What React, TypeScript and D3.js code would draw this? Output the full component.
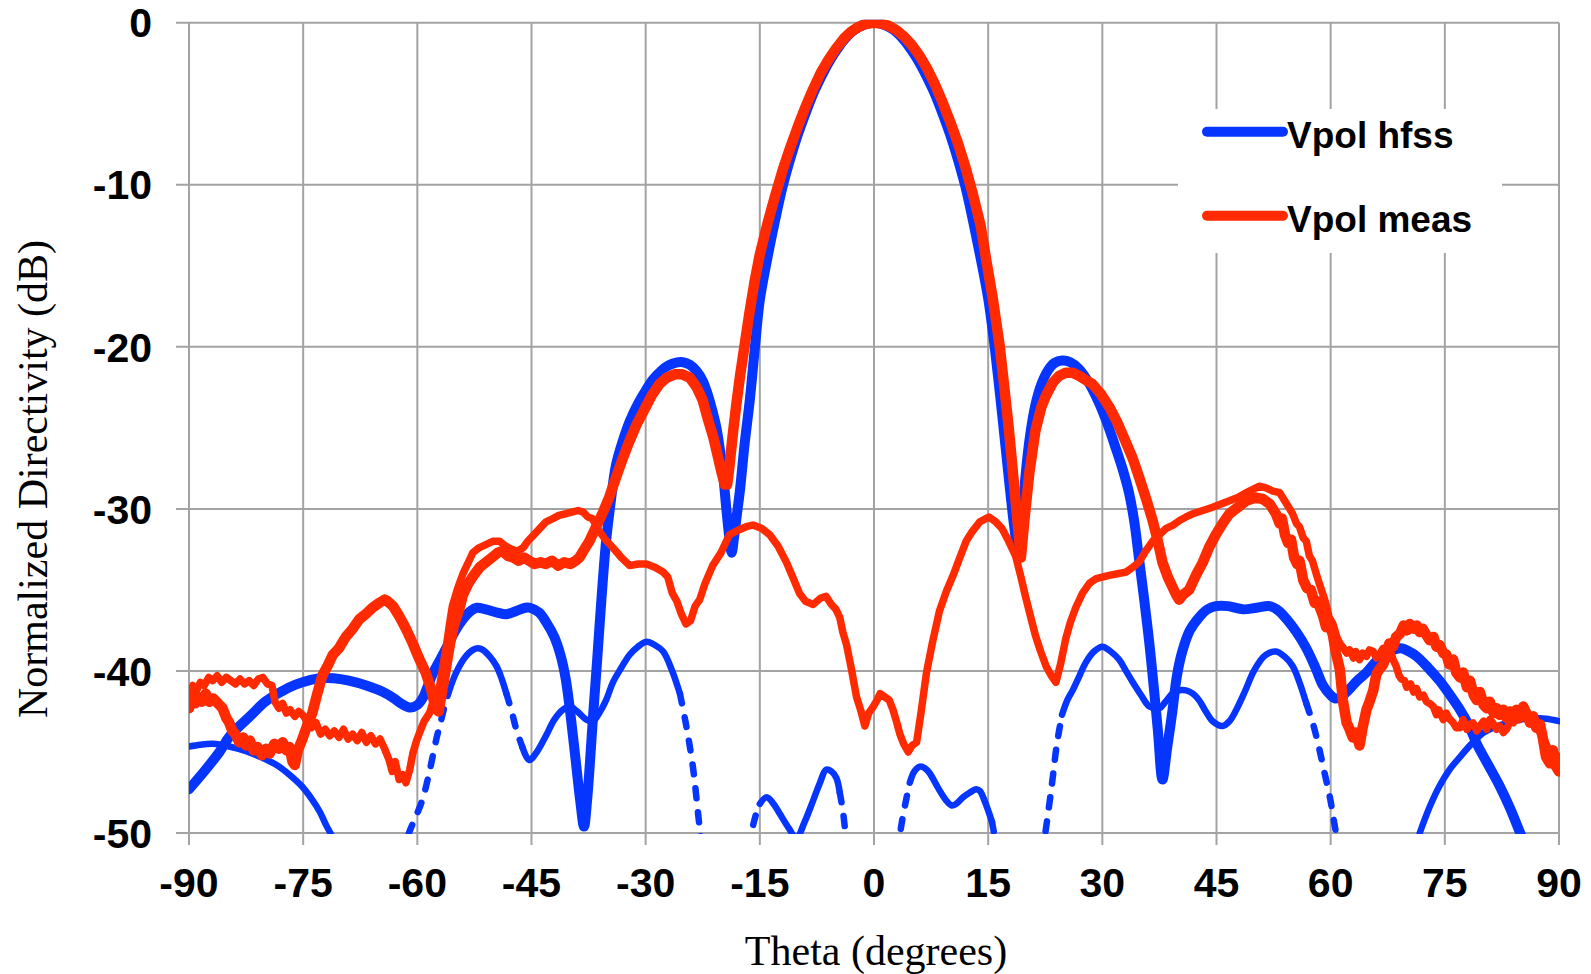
import React from "react";
import * as d3 from "d3";

type Pt = [number, number];

const xTicks = [-90, -75, -60, -45, -30, -15, 0, 15, 30, 45, 60, 75, 90];
const yTicks = [0, -10, -20, -30, -40, -50];
const xTitle = "Theta (degrees)";
const yTitle = "Normalized Directivity (dB)";
const legendLabels = ["Vpol hfss", "Vpol meas"];

// Thick blue: Vpol hfss
const hfssMain: Pt[] = [
  [-90, -47.3], [-88, -46.2], [-86, -45.0], [-84.6, -44.0], [-82, -42.8], [-80, -41.9], [-78, -41.3], [-76, -40.85],
  [-74, -40.55], [-72.8, -40.45], [-71, -40.45], [-69, -40.6], [-66.7, -40.9], [-64.5, -41.3], [-63.2, -41.65],
  [-62, -42.05], [-61, -42.25], [-60, -42.1], [-59.2, -41.6], [-58.6, -40.9], [-57.8, -40.0], [-57, -39.3],
  [-56.1, -38.5], [-55, -37.5], [-54, -36.8], [-53, -36.3], [-52.2, -36.1], [-51, -36.2], [-49.5, -36.4],
  [-48.3, -36.5], [-47, -36.3], [-45.8, -36.1], [-45.2, -36.1], [-44, -36.4], [-43, -37.05], [-42, -37.9],
  [-41.2, -39.0], [-40.5, -40.5], [-39.8, -43.0], [-39.2, -45.5], [-38.6, -48.0], [-38.1, -49.6], [-37.7, -48.0],
  [-37.3, -45.5], [-36.9, -42.7], [-36.4, -39.5], [-35.8, -35.5], [-35.2, -32.0], [-34.6, -29.6], [-33.9, -27.3],
  [-33, -25.8], [-32.1, -24.6], [-31, -23.5], [-30, -22.7], [-29, -22.0], [-28, -21.5], [-27, -21.15], [-26, -20.97],
  [-25.1, -20.95], [-24.2, -21.1], [-23.3, -21.5], [-22.5, -22.1], [-21.8, -23.0], [-21.2, -24.0], [-20.7, -25.0],
  [-20.2, -26.5], [-19.8, -28.0], [-19.4, -30.0], [-19.0, -31.8], [-18.7, -32.7], [-18.4, -31.8], [-18.0, -30.3],
  [-17.6, -28.8], [-17.0, -26.0], [-16.3, -23.2], [-15.6, -19.8], [-15, -17.1], [-14, -14.5], [-13, -12.2],
  [-12, -10.1], [-11, -8.4], [-10, -6.9], [-9, -5.6], [-8, -4.4], [-7, -3.4], [-6, -2.5], [-5, -1.75], [-4, -1.1],
  [-3, -0.6], [-2, -0.27], [-1, -0.07], [0, 0], [1, -0.07], [2, -0.27], [3, -0.6], [4, -1.1], [5, -1.75], [6, -2.5],
  [7, -3.4], [8, -4.4], [9, -5.6], [10, -6.9], [11, -8.4], [12, -10.1], [13, -12.2], [14, -14.5], [15, -17.0],
  [15.8, -19.8], [16.5, -22.7], [17.2, -25.8], [17.8, -28.5], [18.4, -31.0], [19.0, -32.9], [19.4, -31.0],
  [19.9, -28.0], [20.5, -25.5], [21.2, -23.6], [22, -22.3], [22.8, -21.5], [23.7, -21.0], [24.7, -20.85],
  [25.8, -20.95], [26.9, -21.35], [28.2, -22.2], [29.6, -23.5], [30.7, -24.8], [31.8, -26.3], [32.7, -27.6],
  [33.5, -29.0], [34.2, -30.8], [34.8, -33.0], [35.5, -35.6], [36.2, -38.4], [36.8, -41.2], [37.3, -43.7],
  [37.9, -46.7], [38.5, -44.8], [39.2, -42.5], [39.8, -40.3], [40.5, -38.8], [41.5, -37.5], [42.7, -36.7],
  [43.8, -36.2], [44.9, -36.0], [46.5, -36.0], [48.5, -36.2], [50.3, -36.1], [52.0, -36.0], [53.2, -36.3],
  [54.2, -36.8], [55.5, -37.6], [56.8, -38.6], [58, -39.8], [59, -40.9], [60, -41.5], [60.6, -41.7], [61.4, -41.6],
  [62.3, -41.2], [63.5, -40.6], [64.7, -40.1], [66, -39.4], [67.8, -38.8], [69.2, -38.6], [70.3, -38.8],
  [71.3, -39.1], [72.8, -39.8], [74.3, -40.6], [75.7, -41.5], [77.0, -42.4], [78.2, -43.4], [79.2, -44.5],
  [80.7, -45.8], [82.2, -47.1], [83.6, -48.5], [84.9, -50], [86.5, -51.8], [88, -53.5], [90, -55.5],
];

// Thin blue: second hfss cut
const hfssSecond: Pt[] = [
  [-90, -44.66], [-88.5, -44.55], [-86.9, -44.5], [-84.7, -44.66], [-82.5, -44.95], [-80.4, -45.35], [-78.5, -45.8],
  [-76.8, -46.4], [-75.2, -47.1], [-73.8, -47.95], [-72.8, -48.7], [-72.0, -49.5], [-71.1, -50.3], [-70, -51.5],
  [-67, -54], [-64, -54], [-62, -51.5], [-61.1, -50], [-60.2, -49.0], [-59.3, -47.9], [-58.4, -46.2], [-57.5, -44.2],
  [-56.8, -42.9], [-56.2, -41.8], [-55.5, -40.8], [-54.9, -40.1], [-53.8, -39.2], [-52.7, -38.7], [-52, -38.6],
  [-51.4, -38.7], [-50.5, -39.1], [-49.6, -39.7], [-48.9, -40.5], [-48.3, -41.4], [-47.6, -42.5], [-47.0, -43.6],
  [-46.2, -44.7], [-45.3, -45.5], [-44.3, -45.0], [-43.1, -44.0], [-42, -43.0], [-40.9, -42.4], [-40.0, -42.2],
  [-39.0, -42.5], [-37.8, -43.0], [-36.9, -43.1], [-36.1, -42.6], [-35.2, -41.8], [-34.3, -40.7], [-33.2, -39.8],
  [-32.1, -39.0], [-31, -38.5], [-29.9, -38.2], [-28.8, -38.4], [-27.7, -38.8], [-26.6, -39.9], [-25.5, -41.4],
  [-24.7, -43.3], [-23.8, -45.9], [-22.9, -49.7], [-22, -53], [-19.5, -57], [-17, -53], [-16.3, -50.5],
  [-15.6, -49.0], [-15, -48.2], [-14.1, -47.8], [-13.2, -48.2], [-12.4, -48.8], [-11.2, -49.7], [-10.2, -50.3],
  [-9.1, -49.3], [-8.0, -48.0], [-7.1, -46.9], [-6.3, -46.1], [-5.6, -46.2], [-4.95, -46.6], [-4.5, -47.5],
  [-4.1, -48.6], [-3.6, -50.5], [-2, -55], [0, -58], [2, -55], [3.6, -49.5], [4.2, -48.0], [4.7, -46.9],
  [5.3, -46.2], [6.0, -45.9], [6.7, -46.0], [7.3, -46.3], [8.4, -47.2], [9.5, -48.0], [10.2, -48.3], [10.8, -48.2],
  [11.7, -47.8], [12.6, -47.5], [13.4, -47.3], [13.9, -47.4], [14.6, -48.1], [15.5, -49.3], [16, -50.5], [18, -54],
  [19.5, -56], [21, -54], [22, -51.5], [22.6, -49.7], [23.4, -46.9], [24.0, -44.6], [24.7, -42.7], [25.4, -41.8],
  [26.1, -41.2], [27.0, -40.3], [27.8, -39.5], [28.9, -38.8], [30, -38.5], [31.1, -38.8], [32.2, -39.3],
  [33.1, -40.0], [34, -40.7], [35.1, -41.5], [36.2, -42.2], [37.5, -42.3], [38.3, -41.9], [39.2, -41.4],
  [40.1, -41.2], [41, -41.2], [41.9, -41.4], [42.7, -41.8], [43.6, -42.5], [44.5, -43.1], [45.8, -43.4],
  [46.7, -43.1], [47.6, -42.4], [48.7, -41.3], [49.8, -40.1], [50.7, -39.4], [51.5, -39.0], [52.8, -38.8],
  [53.9, -39.1], [55, -39.7], [55.9, -40.7], [56.8, -42.0], [57.7, -43.3], [58.5, -44.8], [59.2, -46.3],
  [59.9, -47.8], [60.7, -50], [62, -53], [66, -57], [70, -53], [71.7, -50], [73, -48.4], [74.3, -47.1],
  [75.6, -46.1], [77.0, -45.3], [78.5, -44.5], [80.1, -43.8], [81.6, -43.45], [83.2, -43.2], [85, -43.0],
  [86.6, -42.9], [88.3, -42.95], [90, -43.1],
];

// theta ranges where the thin hfss curve is drawn dashed
const hfssSecondDashed: Pt[] = [
  [-62, -55.8], [-48.4, -45.8], [-25.5, -14.6], [-4.3, 4.6], [15.2, 24.9], [56.5, 71.0],
];

// Thick red: Vpol meas
const measMain: Pt[] = [
  [-90, -42.3], [-89.6, -41.5], [-89.2, -42.0], [-88.8, -41.6], [-88.3, -41.9], [-87.8, -41.4], [-87.3, -41.9],
  [-86.8, -41.7], [-86.2, -42.0], [-85.6, -42.3], [-85.1, -42.9], [-84.7, -43.2], [-84.3, -43.7], [-83.9, -43.9],
  [-83.4, -44.4], [-82.9, -44.1], [-82.5, -44.6], [-82.0, -44.3], [-81.5, -44.9], [-81.0, -44.7], [-80.4, -45.2],
  [-79.9, -44.8], [-79.4, -45.1], [-78.8, -44.5], [-78.2, -44.8], [-77.7, -44.4], [-77.2, -44.9], [-76.8, -44.7],
  [-76.4, -45.6], [-76.1, -45.8], [-75.7, -44.9], [-75.1, -44.2], [-74.5, -43.4], [-73.8, -42.6], [-73.2, -41.5],
  [-72.5, -40.3], [-71.8, -39.7], [-71.1, -39.0], [-70.3, -38.6], [-69.4, -37.9], [-68.5, -37.4], [-67.6, -36.8],
  [-66.8, -36.5], [-65.9, -36.1], [-65.0, -35.8], [-64.3, -35.6], [-63.9, -35.7], [-63.2, -36.0], [-62.4, -36.6],
  [-61.5, -37.4], [-60.6, -38.3], [-59.8, -39.2], [-58.9, -40.1], [-58.2, -41.1], [-57.6, -42.3], [-57.2, -42.5],
  [-56.8, -41.4], [-56.2, -39.7], [-55.7, -38.3], [-55.2, -37.2], [-54.5, -36.2], [-54.0, -35.3], [-53.3, -34.6],
  [-52.6, -34.1], [-51.8, -33.6], [-51.0, -33.3], [-50.2, -33.0], [-49.4, -32.7], [-48.8, -32.6], [-48.1, -32.9],
  [-47.4, -33.0], [-46.7, -33.2], [-46.0, -33.0], [-45.3, -33.2], [-44.6, -33.4], [-43.8, -33.3], [-43.1, -33.4],
  [-42.3, -33.2], [-41.5, -33.5], [-40.7, -33.3], [-39.9, -33.4], [-39.2, -33.2], [-38.7, -33.0], [-38.2, -32.6],
  [-37.4, -32.0], [-36.6, -31.2], [-35.6, -30.2], [-34.8, -29.3], [-34.0, -28.2], [-33.1, -27.0], [-32.2, -25.9],
  [-31.2, -24.8], [-30.2, -23.9], [-29.2, -23.0], [-28.2, -22.3], [-27.2, -21.9], [-26.2, -21.7], [-25.2, -21.7],
  [-24.2, -21.9], [-23.3, -22.5], [-22.5, -23.3], [-21.8, -24.5], [-21.1, -25.6], [-20.5, -26.8], [-20.0, -27.8],
  [-19.6, -28.5], [-19.3, -28.5], [-19.0, -27.4], [-18.6, -25.6], [-18.1, -23.6], [-17.6, -21.8], [-17.0, -19.9],
  [-16.4, -18.0], [-15.7, -16.0], [-15, -14.3], [-14, -12.4], [-13, -10.7], [-12, -9.1], [-11, -7.7], [-10, -6.4],
  [-9, -5.2], [-8, -4.1], [-7, -3.1], [-6, -2.3], [-5, -1.6], [-4, -1.0], [-3, -0.55], [-2, -0.25], [-1, -0.06],
  [0, 0], [1, -0.05], [2, -0.2], [3, -0.48], [4, -0.88], [5, -1.4], [6, -2.05], [7, -2.85], [8, -3.8], [9, -4.9],
  [10, -6.1], [11, -7.4], [12, -8.9], [13, -10.6], [14, -12.5], [14.8, -14.8], [15.6, -17.0], [16.5, -19.9],
  [17.1, -22.4], [17.7, -25.0], [18.3, -28.0], [18.8, -30.5], [19.3, -33.0], [19.8, -30.5], [20.4, -27.8],
  [21.2, -25.2], [22.0, -23.7], [22.6, -23.0], [23.5, -22.2], [24.3, -21.8], [25.2, -21.6], [26.1, -21.6],
  [27.0, -21.8], [28.0, -22.1], [28.7, -22.3], [29.8, -22.9], [30.9, -23.7], [32.0, -24.7], [33.1, -25.9],
  [34.0, -26.9], [34.8, -28.0], [35.7, -29.3], [36.6, -30.7], [37.3, -32.0], [37.9, -33.3], [38.6, -34.2],
  [39.2, -34.8], [39.7, -35.3], [40.1, -35.6], [40.6, -35.3], [41.4, -35.0], [42.3, -34.1], [43.2, -33.3],
  [44.0, -32.4], [44.9, -31.6], [45.8, -30.9], [46.7, -30.3], [47.8, -29.9], [48.9, -29.5], [50.2, -29.3],
  [51.1, -29.4], [52.0, -29.7], [52.8, -30.3], [53.3, -30.9], [53.6, -30.6], [54.0, -31.6], [54.4, -32.1],
  [54.8, -31.9], [55.2, -33.0], [55.6, -33.4], [55.9, -33.2], [56.4, -34.4], [56.9, -34.9], [57.4, -35.0],
  [57.9, -35.8], [58.3, -35.7], [58.6, -36.1], [59.0, -36.6], [59.4, -37.3], [59.8, -37.0], [60.3, -37.8],
  [60.7, -38.9], [61.2, -39.9], [61.6, -41.8], [62.1, -43.2], [62.5, -43.6], [62.9, -44.1], [63.3, -43.8],
  [63.8, -44.6], [64.2, -43.5], [64.7, -42.4], [65.1, -41.9], [65.6, -41.2], [66.0, -40.2], [66.4, -39.9],
  [66.9, -39.6], [67.3, -39.1], [67.7, -38.3], [68.2, -38.5], [68.6, -37.9], [69.1, -37.7], [69.6, -37.2],
  [70.0, -37.5], [70.4, -37.1], [70.9, -37.4], [71.3, -37.2], [71.7, -37.6], [72.1, -37.4], [72.6, -37.8],
  [73.0, -38.1], [73.5, -37.9], [73.9, -38.5], [74.3, -38.4], [74.8, -38.9], [75.2, -39.0], [75.6, -39.6],
  [76.1, -39.3], [76.5, -40.1], [77.0, -40.4], [77.4, -40.1], [77.9, -41.0], [78.3, -40.6], [78.8, -41.5],
  [79.2, -41.8], [79.6, -41.3], [80.1, -42.1], [80.5, -42.3], [80.9, -41.9], [81.4, -42.6], [81.8, -42.3],
  [82.2, -42.7], [82.7, -42.4], [83.1, -42.9], [83.6, -42.5], [84.0, -42.9], [84.4, -42.4], [84.9, -42.8],
  [85.3, -42.2], [85.7, -42.6], [86.2, -43.2], [86.6, -42.8], [87.0, -43.5], [87.5, -43.3], [87.9, -44.2],
  [88.3, -45.3], [88.8, -45.7], [89.2, -44.9], [89.6, -45.9], [90, -46.2],
];

// Thin red: second measured cut
const measSecond: Pt[] = [
  [-90, -41.4], [-89.5, -40.9], [-89.0, -41.2], [-88.5, -40.7], [-88.0, -40.9], [-87.4, -40.4], [-86.9, -40.6],
  [-86.3, -40.3], [-85.7, -40.7], [-85.1, -40.4], [-84.5, -40.6], [-83.9, -40.8], [-83.3, -40.5], [-82.7, -40.8],
  [-82.1, -40.6], [-81.5, -40.9], [-80.9, -40.5], [-80.3, -40.4], [-79.7, -40.8], [-79.1, -40.9], [-78.7, -41.9],
  [-78.2, -42.3], [-77.7, -42.0], [-77.2, -42.6], [-76.7, -42.4], [-76.1, -42.8], [-75.6, -42.5], [-75.1, -42.7],
  [-74.5, -43.1], [-73.9, -43.5], [-73.3, -43.2], [-72.7, -43.9], [-72.1, -43.6], [-71.5, -44.0], [-70.9, -43.7],
  [-70.3, -44.1], [-69.7, -43.6], [-69.1, -44.2], [-68.5, -43.9], [-67.9, -44.3], [-67.3, -43.8], [-66.7, -44.4],
  [-66.1, -44.0], [-65.5, -44.5], [-64.9, -44.2], [-64.3, -44.8], [-63.7, -45.5], [-63.3, -46.2], [-62.9, -45.6],
  [-62.4, -46.7], [-61.9, -46.4], [-61.5, -46.9], [-61.0, -46.1], [-60.6, -45.1], [-60.1, -44.3], [-59.7, -43.8],
  [-59.1, -43.1], [-58.4, -42.6], [-57.8, -41.7], [-57.1, -41.0], [-56.6, -39.6], [-56.2, -38.5], [-55.8, -37.2],
  [-55.4, -36.0], [-54.7, -34.9], [-54.0, -34.0], [-53.3, -33.3], [-52.7, -32.7], [-51.9, -32.4], [-51.0, -32.2],
  [-50.1, -32.0], [-49.2, -32.0], [-48.4, -32.3], [-47.6, -32.5], [-46.8, -32.6], [-46.1, -32.4], [-45.5, -32.0],
  [-44.7, -31.6], [-43.9, -31.2], [-43.1, -30.8], [-42.2, -30.6], [-41.4, -30.4], [-40.5, -30.3], [-39.7, -30.2],
  [-38.9, -30.1], [-38.2, -30.2], [-37.6, -30.5], [-37.0, -30.6], [-36.2, -31.3], [-35.3, -31.9], [-34.3, -32.4],
  [-33.2, -33.0], [-32.1, -33.5], [-31.0, -33.4], [-29.9, -33.4], [-28.8, -33.6], [-27.7, -33.9], [-27.1, -34.2],
  [-26.5, -35.2], [-25.9, -35.7], [-25.3, -36.5], [-24.7, -37.1], [-24.1, -36.9], [-23.5, -36.0], [-22.9, -35.6],
  [-22.2, -34.6], [-21.2, -33.5], [-20.1, -32.7], [-19.0, -31.6], [-17.8, -31.3], [-16.8, -31.1], [-15.9, -31.0],
  [-14.8, -31.2], [-13.7, -31.6], [-12.6, -32.3], [-11.5, -33.3], [-10.6, -34.3], [-9.8, -35.2], [-9.0, -35.7],
  [-8.0, -35.9], [-7.0, -35.5], [-6.3, -35.4], [-5.6, -35.9], [-5.0, -36.2], [-4.5, -36.7], [-4.1, -37.6],
  [-3.6, -38.4], [-3.0, -39.8], [-2.3, -41.6], [-1.7, -42.5], [-1.2, -43.4], [-0.7, -42.6], [-0.1, -42.2],
  [0.4, -41.8], [0.8, -41.4], [1.4, -41.6], [2.0, -41.8], [2.5, -42.4], [3.0, -43.2], [3.4, -43.9], [3.9, -44.5],
  [4.5, -45.0], [5.0, -44.6], [5.6, -44.4], [6.2, -42.5], [6.9, -40.1], [7.7, -38.2], [8.6, -36.3], [9.5, -35.1],
  [10.4, -34.1], [11.2, -33.1], [12.1, -32.0], [12.9, -31.4], [13.9, -30.8], [15.1, -30.5], [16.0, -30.8],
  [16.8, -31.2], [17.7, -32.0], [18.6, -32.9], [19.3, -34.2], [19.9, -35.4], [20.6, -36.7], [21.2, -37.8],
  [21.9, -38.8], [22.6, -39.7], [23.3, -40.3], [23.9, -40.7], [24.5, -39.6], [25.2, -38.0], [25.8, -37.0],
  [26.5, -36.1], [27.4, -35.2], [28.3, -34.6], [29.2, -34.3], [30.1, -34.2], [30.9, -34.1], [32.0, -34.0],
  [33.1, -33.9], [34.0, -33.6], [34.8, -33.3], [35.7, -32.6], [36.6, -32.0], [37.5, -31.6], [38.4, -31.2],
  [39.3, -31.0], [40.2, -30.7], [41.0, -30.5], [41.9, -30.3], [43.2, -30.1], [44.5, -29.9], [45.6, -29.7],
  [46.7, -29.5], [47.8, -29.3], [48.9, -29.0], [49.8, -28.8], [50.6, -28.6], [51.5, -28.7], [52.4, -28.9],
  [53.3, -29.0], [54.1, -29.6], [55.0, -30.3], [55.5, -30.9], [55.9, -31.1], [56.4, -31.8], [56.8, -32.0],
  [57.2, -32.9], [57.6, -33.2], [58.1, -34.0], [58.5, -34.6], [59.0, -35.3], [59.4, -35.9], [59.8, -36.7],
  [60.3, -37.1], [60.8, -37.9], [61.2, -38.3], [61.7, -38.6], [62.1, -38.9], [62.5, -38.7], [63.0, -39.2],
  [63.3, -38.8], [63.8, -39.3], [64.2, -38.9], [64.7, -39.1], [65.1, -38.7], [65.6, -38.8], [66.0, -39.2],
  [66.4, -39.0], [66.9, -38.6], [67.2, -38.6], [67.8, -38.7], [68.2, -39.3], [68.6, -39.7], [69.0, -40.3],
  [69.3, -40.5], [69.7, -40.6], [70.0, -41.0], [70.5, -40.8], [70.9, -41.3], [71.3, -41.1], [71.7, -41.6],
  [72.2, -41.5], [72.6, -41.9], [73.0, -42.0], [73.5, -42.2], [73.9, -42.7], [74.2, -42.4], [74.8, -43.0],
  [75.2, -42.6], [75.5, -42.9], [76.1, -43.2], [76.5, -43.5], [77.0, -43.5], [77.4, -43.0], [77.9, -43.6],
  [78.3, -43.3], [78.7, -43.2], [79.2, -43.7], [79.6, -43.4], [80.1, -43.1], [80.5, -43.6], [80.9, -43.0],
  [81.3, -43.2], [81.8, -43.6], [82.2, -43.4], [82.7, -43.8], [83.1, -43.6], [83.6, -43.1], [84.0, -43.2],
  [84.4, -42.8], [84.8, -43.0], [85.3, -42.6], [85.7, -42.8], [86.2, -43.0], [86.6, -43.3], [87.0, -43.1],
  [87.5, -43.8], [87.9, -44.1], [88.4, -44.6], [88.8, -45.1], [89.3, -45.5], [89.7, -45.2], [90, -45.5],
];

const BLUE = "#0535FF";
const RED = "#FF2A00";
const GRID = "#A3A3A3";

const X0 = 189;
const X1 = 1559;
const Y0 = 22.7;
const Y1 = 833;

function splitDashed(points: Pt[], ranges: Pt[]) {
  const segs: { dashed: boolean; pts: Pt[] }[] = [];
  let cur: { dashed: boolean; pts: Pt[] } | null = null;
  for (let i = 0; i < points.length - 1; i++) {
    const a = points[i];
    const b = points[i + 1];
    const mid = (a[0] + b[0]) / 2;
    const dashed = ranges.some(([lo, hi]) => mid >= lo && mid <= hi);
    if (!cur || cur.dashed !== dashed) {
      cur = { dashed, pts: [a] };
      segs.push(cur);
    }
    cur.pts.push(b);
  }
  return segs;
}

export default function App() {
  const x = d3.scaleLinear().domain([-90, 90]).range([X0, X1]);
  const y = d3.scaleLinear().domain([-50, 0]).range([Y1, Y0]);

  const smooth = d3
    .line<Pt>()
    .x((d) => x(d[0]))
    .y((d) => y(d[1]))
    .curve(d3.curveCatmullRom.alpha(0.5));
  const straight = d3
    .line<Pt>()
    .x((d) => x(d[0]))
    .y((d) => y(d[1]));

  const thinSegs = splitDashed(hfssSecond, hfssSecondDashed);

  const tickFont = "'Liberation Sans', Arial, sans-serif";
  const titleFont = "'Liberation Serif', 'Times New Roman', serif";

  return (
    <svg
      width={1591}
      height={974}
      style={{ position: "absolute", left: 0, top: 0, background: "#fff" }}
    >
      <defs>
        <clipPath id="plotClip">
          <rect x={X0} y={Y0 - 3} width={X1 - X0 + 1} height={Y1 - Y0 + 4} />
        </clipPath>
      </defs>
      <rect x={0} y={0} width={1591} height={974} fill="#fff" />
      {xTicks.map((t) => (
        <line key={"gx" + t} x1={x(t)} x2={x(t)} y1={Y0} y2={Y1 + 12} stroke={GRID} strokeWidth={2} />
      ))}
      {yTicks.map((t) => (
        <line key={"gy" + t} x1={X0 - 13} x2={X1} y1={y(t)} y2={y(t)} stroke={GRID} strokeWidth={2} />
      ))}
      <rect x={1178} y={109} width={324} height={144} fill="#fff" />
      <g clipPath="url(#plotClip)" fill="none" strokeLinejoin="round" strokeLinecap="round">
        {thinSegs.map((s, i) => (
          <path
            key={"thin" + i}
            d={smooth(s.pts) || ""}
            stroke={BLUE}
            strokeWidth={6.5}
            strokeDasharray={s.dashed ? "10 14" : undefined}
          />
        ))}
        <path d={smooth(hfssMain) || ""} stroke={BLUE} strokeWidth={10} />
        <path d={straight(measSecond) || ""} stroke={RED} strokeWidth={7.5} />
        <path d={straight(measMain) || ""} stroke={RED} strokeWidth={10.5} />
      </g>
      {xTicks.map((t) => (
        <text
          key={"tx" + t}
          x={x(t)}
          y={897}
          textAnchor="middle"
          fontFamily={tickFont}
          fontWeight="bold"
          fontSize={41}
          fill="#000"
        >
          {t}
        </text>
      ))}
      {yTicks.map((t) => (
        <text
          key={"ty" + t}
          x={152}
          y={y(t) + 14.7}
          textAnchor="end"
          fontFamily={tickFont}
          fontWeight="bold"
          fontSize={41}
          fill="#000"
        >
          {t}
        </text>
      ))}
      <text x={876} y={965} textAnchor="middle" fontFamily={titleFont} fontSize={42} fill="#000">
        {xTitle}
      </text>
      <text
        transform="translate(47,479) rotate(-90)"
        textAnchor="middle"
        fontFamily={titleFont}
        fontSize={42}
        fill="#000"
      >
        {yTitle}
      </text>
      {legendLabels.map((lab, i) => {
        const ly = i === 0 ? 131.7 : 215.7;
        return (
          <g key={lab}>
            <line x1={1207} x2={1283} y1={ly} y2={ly} stroke={i === 0 ? BLUE : RED} strokeWidth={10} strokeLinecap="round" />
            <text x={1287} y={ly + 16.5} fontFamily={tickFont} fontWeight="bold" fontSize={37} fill="#000">
              {lab}
            </text>
          </g>
        );
      })}
    </svg>
  );
}
